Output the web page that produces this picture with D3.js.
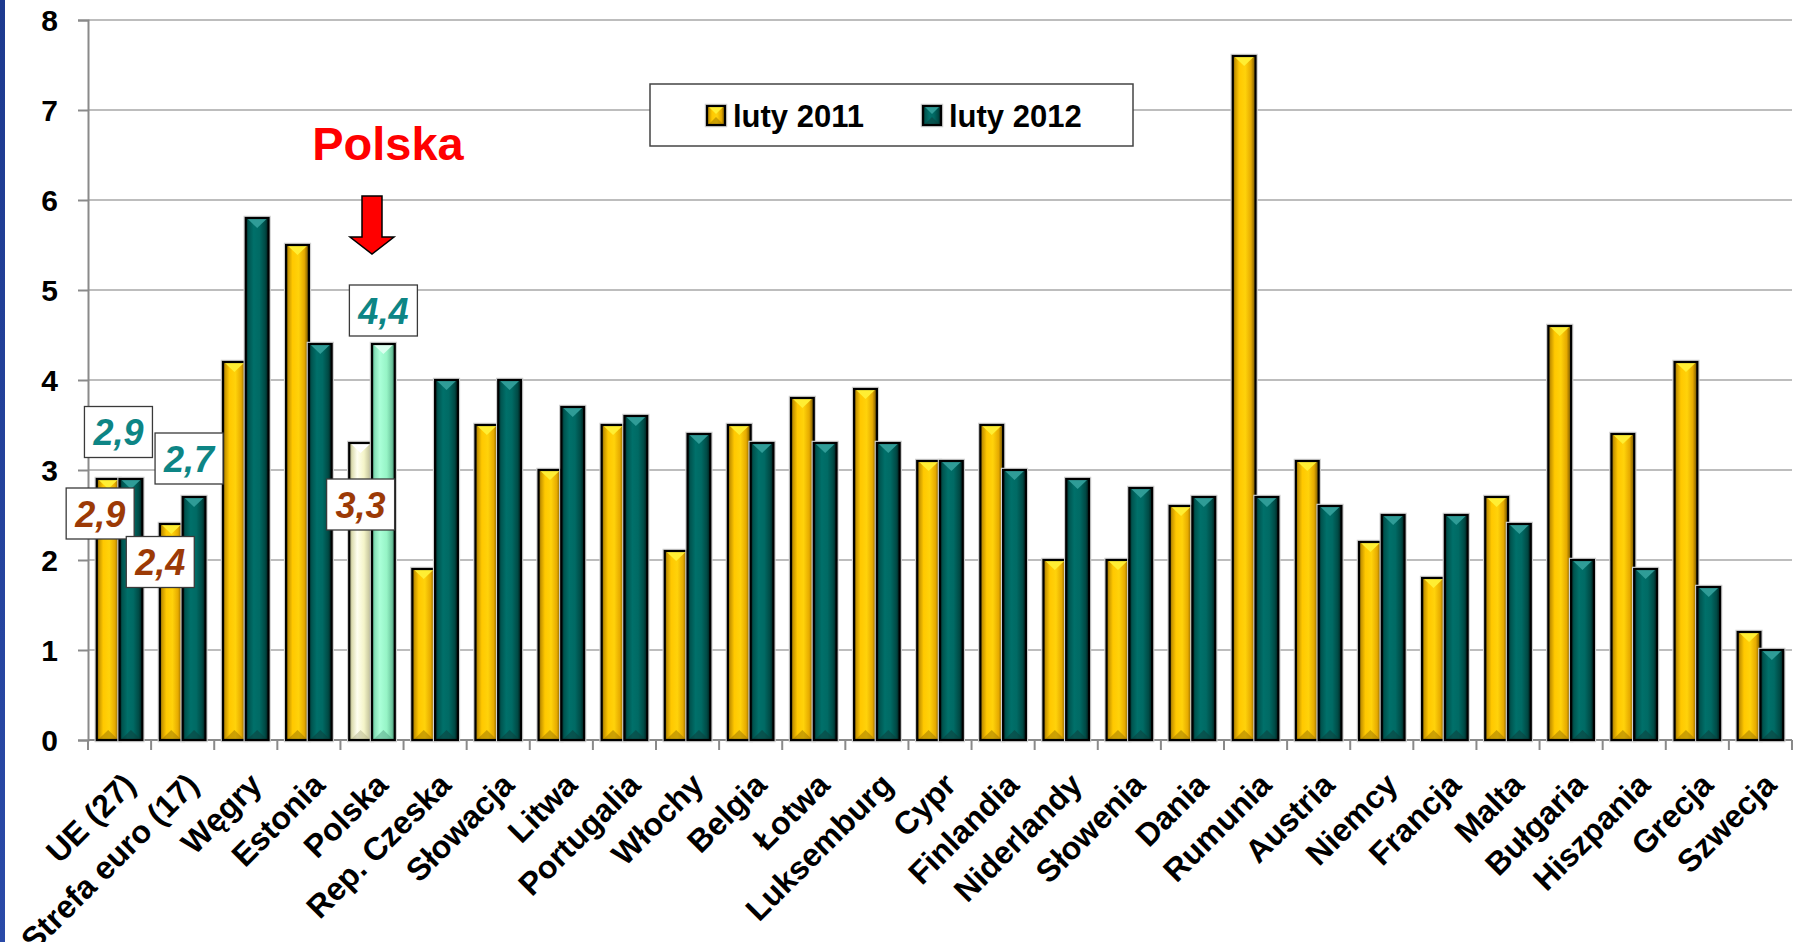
<!DOCTYPE html>
<html><head><meta charset="utf-8">
<script src="https://cdn.jsdelivr.net/npm/d3@7"></script>
<style>body{margin:0;background:#fff;overflow:hidden} text{font-family:"Liberation Sans",Arial,sans-serif}</style>
</head><body><svg id="c" width="1794" height="942"></svg>
<script>
const categories = ["UE (27)","Strefa euro (17)","Węgry","Estonia","Polska","Rep. Czeska","Słowacja","Litwa","Portugalia","Włochy","Belgia","Łotwa","Luksemburg","Cypr","Finlandia","Niderlandy","Słowenia","Dania","Rumunia","Austria","Niemcy","Francja","Malta","Bułgaria","Hiszpania","Grecja","Szwecja"];
const values2011 = [2.9,2.4,4.2,5.5,3.3,1.9,3.5,3.0,3.5,2.1,3.5,3.8,3.9,3.1,3.5,2.0,2.0,2.6,7.6,3.1,2.2,1.8,2.7,4.6,3.4,4.2,1.2];
const values2012 = [2.9,2.7,5.8,4.4,4.4,4.0,4.0,3.7,3.6,3.4,3.3,3.3,3.3,3.1,3.0,2.9,2.8,2.7,2.7,2.6,2.5,2.5,2.4,2.0,1.9,1.7,1.0];
const seriesNames = ["luty 2011","luty 2012"];
const yTickValues = [0,1,2,3,4,5,6,7,8];
const highlightCategory = "Polska";
const labeledCategories = ["UE (27)","Strefa euro (17)","Polska"];

const svg = d3.select("#c");
const W = 1794, H = 942;
const plot = {left: 88, right: 1792, top: 20, bottom: 740};
const x0 = d3.scaleBand().domain(categories).range([plot.left, plot.right]);
const bw = x0.bandwidth();
const x1 = d3.scaleBand().domain([0, 1]).range([bw * 0.139, bw * 0.861]);
const y = d3.scaleLinear().domain([0, 8]).range([plot.bottom, plot.top]);
const fmt = d3.formatLocale({decimal: ",", thousands: " ", grouping: [3], currency: ["", ""]}).format(".1f");

const defs = svg.append("defs");
const styles = {
  y11: {stops: [[0,"#6e5200"],[0.1,"#c89600"],[0.28,"#ffc800"],[0.55,"#ffd20a"],[0.8,"#e6aa00"],[1,"#6a4e00"]], top: "#ffee33", bottom: "#a27a00"},
  t12: {stops: [[0,"#00201e"],[0.12,"#005550"],[0.35,"#00706a"],[0.6,"#006a64"],[0.85,"#004a45"],[1,"#001a18"]], top: "#2f9c97", bottom: "#0d3f3c"},
  p11: {stops: [[0,"#8a8a66"],[0.12,"#dcdcb0"],[0.35,"#fffff0"],[0.65,"#f4f4c8"],[0.88,"#c8c8a0"],[1,"#7a7a58"]], top: "#ffffff", bottom: "#b8b890"},
  p12: {stops: [[0,"#3d8a6c"],[0.12,"#86e0b8"],[0.35,"#aaffd8"],[0.65,"#96f4c6"],[0.88,"#6cc49c"],[1,"#347a5e"]], top: "#dcfff0", bottom: "#5aa888"}
};
Object.entries(styles).forEach(([id, s]) => {
  const lg = defs.append("linearGradient").attr("id", "g-" + id).attr("x1", 0).attr("x2", 1).attr("y1", 0).attr("y2", 0);
  s.stops.forEach(([o, c]) => lg.append("stop").attr("offset", o).attr("stop-color", c));
});
const bg = defs.append("linearGradient").attr("id", "blue").attr("x1", 0).attr("x2", 0).attr("y1", 0).attr("y2", 1);
bg.append("stop").attr("offset", 0).attr("stop-color", "#1d3a8f");
bg.append("stop").attr("offset", 1).attr("stop-color", "#2a4aa8");

svg.append("rect").attr("width", W).attr("height", H).attr("fill", "#fff");
svg.append("rect").attr("x", 0).attr("y", 0).attr("width", 5).attr("height", H).attr("fill", "url(#blue)");

// gridlines
svg.append("g").selectAll("line").data(yTickValues.filter(d => d > 0)).join("line")
  .attr("x1", plot.left).attr("x2", plot.right).attr("y1", d => y(d)).attr("y2", d => y(d))
  .attr("stroke", "#bdbdbd").attr("stroke-width", 2);

// y axis
const yAxis = svg.append("g").attr("transform", `translate(${plot.left},0)`)
  .call(d3.axisLeft(y).tickValues(yTickValues).tickSize(10).tickPadding(20).tickFormat(d3.format("d")));
yAxis.select(".domain").attr("stroke", "#8a8a8a").attr("stroke-width", 2);
yAxis.selectAll(".tick line").attr("stroke", "#8a8a8a").attr("stroke-width", 2);
yAxis.selectAll(".tick text").attr("font-size", 30).attr("font-weight", "bold").attr("fill", "#000")
  .attr("font-family", "'Liberation Sans', Arial, sans-serif").attr("dy", "0.36em");

// x axis
const xAxis = svg.append("g").attr("transform", `translate(0,${plot.bottom})`);
xAxis.append("line").attr("x1", plot.left).attr("x2", plot.right).attr("stroke", "#8a8a8a").attr("stroke-width", 2);
const boundaries = categories.map(c => x0(c)).concat([plot.right]);
xAxis.selectAll("line.tk").data(boundaries).join("line").attr("class", "tk")
  .attr("x1", d => d).attr("x2", d => d).attr("y1", 0).attr("y2", 10)
  .attr("stroke", "#8a8a8a").attr("stroke-width", 2);
xAxis.selectAll("text").data(categories).join("text")
  .attr("transform", d => `translate(${x0(d) + bw / 2 + 2},${31}) rotate(-45)`)
  .attr("text-anchor", "end").attr("dy", "0.7em")
  .attr("font-size", 32).attr("font-weight", "bold").attr("fill", "#000")
  .text(d => d);

// bars
function drawBar(g, x, yTop, w, h, st, bev) {
  g.append("rect").attr("x", x - 1.5).attr("y", yTop - 1.5).attr("width", w + 3).attr("height", h + 3)
    .attr("fill", "none").attr("stroke", "#d0d0d0").attr("stroke-width", 1.5);
  g.append("rect").attr("x", x).attr("y", yTop).attr("width", w).attr("height", h).attr("fill", `url(#g-${st})`);
  const s = styles[st];
  const b = Math.min(bev, h / 2);
  g.append("path").attr("d", `M${x + 2},${yTop + 1}L${x + w - 2},${yTop + 1}L${x + w / 2},${yTop + 1 + b}Z`).attr("fill", s.top);
  g.append("path").attr("d", `M${x + 2},${yTop + h - 1}L${x + w - 2},${yTop + h - 1}L${x + w / 2},${yTop + h - 1 - b}Z`).attr("fill", s.bottom).attr("opacity", 0.55);
  g.append("rect").attr("x", x).attr("y", yTop).attr("width", w).attr("height", h)
    .attr("fill", "none").attr("stroke", "#000").attr("stroke-width", 2.2);
}
const barsG = svg.append("g");
categories.forEach((c, i) => {
  const hl = c === highlightCategory;
  [values2011[i], values2012[i]].forEach((v, s) => {
    const st = s === 0 ? (hl ? "p11" : "y11") : (hl ? "p12" : "t12");
    drawBar(barsG, x0(c) + x1(s), y(v), x1.bandwidth(), y(0) - y(v), st, 9);
  });
});

// data labels (annotations)
const labelOffsets = {
  "UE (27)": [[-8, 34.5], [-12.5, -47]],
  "Strefa euro (17)": [[-11, 38], [-5, -38.5]],
  "Polska": [[0, 61.5], [0, -33.5]]
};
const labelColors = ["#9c3a06", "#0d8585"];
const labG = svg.append("g");
labeledCategories.forEach(c => {
  const i = categories.indexOf(c);
  [values2011[i], values2012[i]].forEach((v, s) => {
    const cx = x0(c) + x1(s) + x1.bandwidth() / 2 + labelOffsets[c][s][0];
    const cy = y(v) + labelOffsets[c][s][1];
    const bwid = 68, bh = 51;
    labG.append("rect").attr("x", cx - bwid / 2).attr("y", cy - bh / 2).attr("width", bwid).attr("height", bh)
      .attr("fill", "#fff").attr("stroke", "#3a3a3a").attr("stroke-width", 1.3);
    labG.append("text").attr("x", cx).attr("y", cy + 13).attr("text-anchor", "middle")
      .attr("font-size", 36).attr("font-weight", "bold").attr("font-style", "italic")
      .attr("fill", labelColors[s]).text(fmt(v));
  });
});

// Polska annotation
const pc = x0(highlightCategory) + bw / 2;
svg.append("text").attr("x", pc + 16).attr("y", 160).attr("text-anchor", "middle")
  .attr("font-size", 47).attr("font-weight", "bold").attr("fill", "#ff0000").text("Polska");
svg.append("path")
  .attr("d", `M${pc - 10},196 L${pc + 10},196 L${pc + 10},237 L${pc + 22},237 L${pc},254 L${pc - 22},237 L${pc - 10},237 Z`)
  .attr("fill", "#ff0000").attr("stroke", "#000").attr("stroke-width", 1.5).attr("stroke-linejoin", "miter");

// legend
const lg = svg.append("g");
lg.append("rect").attr("x", 650).attr("y", 84).attr("width", 483).attr("height", 62)
  .attr("fill", "#fff").attr("stroke", "#444").attr("stroke-width", 1.5);
const legX = [707, 923];
seriesNames.forEach((n, s) => {
  drawBar(lg, legX[s], 106, 18, 19, s === 0 ? "y11" : "t12", 7);
  lg.append("text").attr("x", legX[s] + 26).attr("y", 127).attr("font-size", 31).attr("font-weight", "bold")
    .attr("fill", "#000").text(n);
});
</script></body></html>
